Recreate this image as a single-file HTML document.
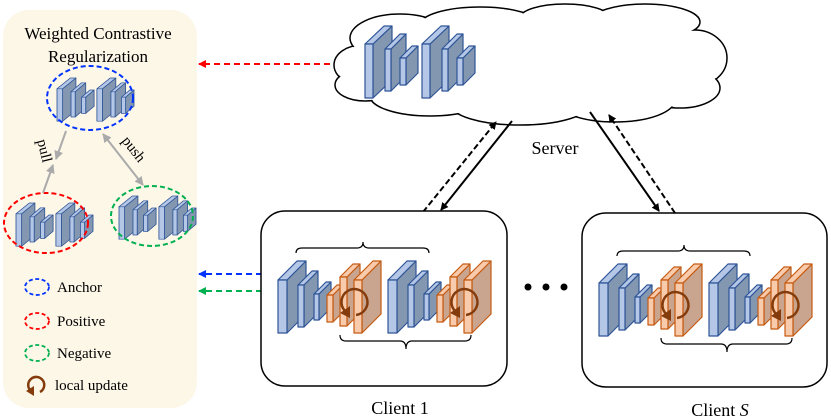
<!DOCTYPE html>
<html><head><meta charset="utf-8"><style>
html,body{margin:0;padding:0;background:#fff;}
svg{display:block;}
text{font-family:"Liberation Serif","Times New Roman",serif;fill:#000;}
</style></head><body>
<svg width="831" height="420" viewBox="0 0 831 420" xmlns="http://www.w3.org/2000/svg" font-family="Liberation Serif, serif">
<defs>
<marker id="ak" markerWidth="8" markerHeight="8" refX="7" refY="4" orient="auto" markerUnits="userSpaceOnUse"><path d="M0,0 L8,4 L0,8 z" fill="#000"/></marker>
<marker id="ar" markerWidth="8" markerHeight="8" refX="7" refY="4" orient="auto" markerUnits="userSpaceOnUse"><path d="M0,0 L8,4 L0,8 z" fill="#f00"/></marker>
<marker id="ab" markerWidth="8" markerHeight="8" refX="7" refY="4" orient="auto" markerUnits="userSpaceOnUse"><path d="M0,0 L8,4 L0,8 z" fill="#0033ff"/></marker>
<marker id="ag" markerWidth="8" markerHeight="8" refX="7" refY="4" orient="auto" markerUnits="userSpaceOnUse"><path d="M0,0 L8,4 L0,8 z" fill="#00b050"/></marker>
<marker id="agr" markerWidth="9" markerHeight="9" refX="8" refY="4.5" orient="auto" markerUnits="userSpaceOnUse"><path d="M0,0 L9,4.5 L0,9 z" fill="#aaa"/></marker>
<marker id="agr2" markerWidth="9" markerHeight="9" refX="1" refY="4.5" orient="auto" markerUnits="userSpaceOnUse"><path d="M9,0 L0,4.5 L9,9 z" fill="#aaa"/></marker>

<g id="bm" stroke="#2f5597" stroke-width="1.2" stroke-linejoin="round">
  <polygon points="373,44 392,26 392,80 373,98" fill="#8497b0"/>
  <polygon points="365,44 384,26 392,26 373,44" fill="#b4c7e7"/>
  <rect x="365" y="44" width="8" height="54" fill="#b4c7e7"/>
  <polygon points="391,49 406,34 406,76 391,91" fill="#8497b0"/>
  <polygon points="385,49 400,34 406,34 391,49" fill="#b4c7e7"/>
  <rect x="385" y="49" width="6" height="42" fill="#b4c7e7"/>
  <polygon points="406,58 418,46 418,73 406,85" fill="#8497b0"/>
  <polygon points="400,58 412,46 418,46 406,58" fill="#b4c7e7"/>
  <rect x="400" y="58" width="6" height="27" fill="#b4c7e7"/>
  <g transform="translate(57,0)">
  <polygon points="373,44 392,26 392,80 373,98" fill="#8497b0"/>
  <polygon points="365,44 384,26 392,26 373,44" fill="#b4c7e7"/>
  <rect x="365" y="44" width="8" height="54" fill="#b4c7e7"/>
  <polygon points="391,49 406,34 406,76 391,91" fill="#8497b0"/>
  <polygon points="385,49 400,34 406,34 391,49" fill="#b4c7e7"/>
  <rect x="385" y="49" width="6" height="42" fill="#b4c7e7"/>
  <polygon points="406,58 418,46 418,73 406,85" fill="#8497b0"/>
  <polygon points="400,58 412,46 418,46 406,58" fill="#b4c7e7"/>
  <rect x="400" y="58" width="6" height="27" fill="#b4c7e7"/>
  </g>
</g>

<g id="cu" stroke-width="1.2" stroke-linejoin="round">
  <g stroke="#2f5597">
    <polygon points="287,280 306,261 306,314 287,333" fill="#8497b0"/>
    <polygon points="278,280 297,261 306,261 287,280" fill="#b4c7e7"/>
    <rect x="278" y="280" width="9" height="53" fill="#b4c7e7"/>
    <polygon points="304,285 318,271 318,313 304,327" fill="#8497b0"/>
    <polygon points="298,285 312,271 318,271 304,285" fill="#b4c7e7"/>
    <rect x="298" y="285" width="6" height="42" fill="#b4c7e7"/>
    <polygon points="319,294 331,282 331,308 319,320" fill="#8497b0"/>
    <polygon points="314,294 326,282 331,282 319,294" fill="#b4c7e7"/>
    <rect x="314" y="294" width="5" height="26" fill="#b4c7e7"/>
  </g>
  <g stroke="#c55a11">
    <polygon points="333,295 343,285 343,312 333,322" fill="#c9a58f"/>
    <polygon points="327,295 337,285 343,285 333,295" fill="#f8cbad"/>
    <rect x="327" y="295" width="6" height="27" fill="#f8cbad"/>
    <polygon points="347,277 360,264 360,313 347,326" fill="#c9a58f"/>
    <polygon points="340,277 353,264 360,264 347,277" fill="#f8cbad"/>
    <rect x="340" y="277" width="7" height="49" fill="#f8cbad"/>
    <polygon points="362,280 381,261 381,314 362,333" fill="#c9a58f"/>
    <polygon points="354,280 373,261 381,261 362,280" fill="#f8cbad"/>
    <rect x="354" y="280" width="8" height="53" fill="#f8cbad"/>
  </g>
  <path d="M345,311 A13,13 0 1 1 356,315" fill="none" stroke="#843c0c" stroke-width="2.5"/>
  <polygon points="340,313 350,306 350,318" fill="#843c0c"/>
</g>
<g id="client">
  <use href="#cu"/>
  <use href="#cu" transform="translate(110,0)"/>
  <path d="M296,253 q0,-5 6,-5 h55 q6,0 6,-6 q0,6 6,6 h54 q6,0 6,5" fill="none" stroke="#000" stroke-width="1.2"/>
  <path d="M340,335 q0,6 6,6 h54 q6,0 6,8 q0,-8 6,-8 h53 q6,0 6,-6" fill="none" stroke="#000" stroke-width="1.2"/>
</g>
</defs>

<rect x="3" y="10" width="194" height="398" rx="26" fill="#fdf7e8"/>
<text x="98" y="39" font-size="17" text-anchor="middle">Weighted Contrastive</text>
<text x="98" y="62" font-size="17" text-anchor="middle">Regularization</text>

<use href="#bm" transform="translate(57,78) scale(0.7,0.6) translate(-365,-26)"/>
<ellipse cx="90" cy="98" rx="43" ry="32" fill="none" stroke="#0033ff" stroke-width="2" stroke-dasharray="5,3"/>
<use href="#bm" transform="translate(16,203) scale(0.7,0.6) translate(-365,-26)"/>
<ellipse cx="46" cy="223" rx="42" ry="30" fill="none" stroke="#f00" stroke-width="2" stroke-dasharray="5,3"/>
<use href="#bm" transform="translate(119,196) scale(0.7,0.6) translate(-365,-26)"/>
<ellipse cx="152" cy="216" rx="41" ry="30" fill="none" stroke="#00b050" stroke-width="2" stroke-dasharray="5,3"/>

<line x1="66" y1="131" x2="56" y2="159" stroke="#aaa" stroke-width="2" marker-end="url(#agr)"/>
<line x1="43" y1="193" x2="53" y2="165" stroke="#aaa" stroke-width="2" marker-end="url(#agr)"/>
<line x1="103" y1="134" x2="143" y2="185" stroke="#aaa" stroke-width="2" marker-end="url(#agr)" marker-start="url(#agr2)"/>
<text x="40" y="152" font-size="15" transform="rotate(76 40 152)" text-anchor="middle">pull</text>
<text x="130" y="152" font-size="15" transform="rotate(52 130 152)" text-anchor="middle">push</text>

<ellipse cx="37" cy="287" rx="12" ry="8" fill="none" stroke="#0033ff" stroke-width="1.8" stroke-dasharray="4,2.5"/>
<text x="57" y="292" font-size="15">Anchor</text>
<ellipse cx="37" cy="321" rx="12" ry="8" fill="none" stroke="#f00" stroke-width="1.8" stroke-dasharray="4,2.5"/>
<text x="57" y="326" font-size="15">Positive</text>
<ellipse cx="37" cy="353" rx="12" ry="8" fill="none" stroke="#00b050" stroke-width="1.8" stroke-dasharray="4,2.5"/>
<text x="57" y="358" font-size="15">Negative</text>
<path d="M31,391 A8,8 0 1 1 40,392" fill="none" stroke="#843c0c" stroke-width="2.5"/>
<polygon points="26,391 34,386 34,396" fill="#843c0c"/>
<text x="55" y="390" font-size="15">local update</text>

<line x1="330" y1="64" x2="199" y2="64" stroke="#f00" stroke-width="2" stroke-dasharray="6,4" marker-end="url(#ar)"/>
<line x1="262" y1="274" x2="199" y2="274" stroke="#0033ff" stroke-width="2" stroke-dasharray="6,4" marker-end="url(#ab)"/>
<line x1="262" y1="291" x2="199" y2="291" stroke="#00b050" stroke-width="2" stroke-dasharray="6,4" marker-end="url(#ag)"/>

<g stroke="#000" stroke-width="1.5" fill="#fff">
  <ellipse cx="362" cy="65" rx="28" ry="20"/>
  <ellipse cx="400" cy="38" rx="50" ry="24"/>
  <ellipse cx="480" cy="25" rx="60" ry="18"/>
  <ellipse cx="565" cy="18" rx="45" ry="14"/>
  <ellipse cx="645" cy="22" rx="55" ry="18"/>
  <ellipse cx="695" cy="58" rx="32" ry="28"/>
  <ellipse cx="680" cy="88" rx="40" ry="20"/>
  <ellipse cx="615" cy="100" rx="60" ry="22"/>
  <ellipse cx="520" cy="104" rx="70" ry="21"/>
  <ellipse cx="430" cy="96" rx="60" ry="20"/>
  <ellipse cx="365" cy="85" rx="30" ry="16"/>
</g>
<g fill="#fff">
  <ellipse cx="362" cy="65" rx="27" ry="19"/>
  <ellipse cx="400" cy="38" rx="49" ry="23"/>
  <ellipse cx="480" cy="25" rx="59" ry="17"/>
  <ellipse cx="565" cy="18" rx="44" ry="13"/>
  <ellipse cx="645" cy="22" rx="54" ry="17"/>
  <ellipse cx="695" cy="58" rx="31" ry="27"/>
  <ellipse cx="680" cy="88" rx="39" ry="19"/>
  <ellipse cx="615" cy="100" rx="59" ry="21"/>
  <ellipse cx="520" cy="104" rx="69" ry="20"/>
  <ellipse cx="430" cy="96" rx="59" ry="19"/>
  <ellipse cx="365" cy="85" rx="29" ry="15"/>
  <ellipse cx="530" cy="62" rx="160" ry="44"/>
  <ellipse cx="660" cy="52" rx="45" ry="28"/>
</g>
<use href="#bm"/>
<text x="555" y="154" font-size="18" text-anchor="middle">Server</text>

<line x1="423" y1="212" x2="496" y2="122" stroke="#000" stroke-width="2" stroke-dasharray="6,3" marker-end="url(#ak)"/>
<line x1="512" y1="121" x2="441" y2="210" stroke="#000" stroke-width="2" marker-end="url(#ak)"/>
<line x1="590" y1="112" x2="659" y2="211" stroke="#000" stroke-width="2" marker-end="url(#ak)"/>
<line x1="675" y1="213" x2="609" y2="115" stroke="#000" stroke-width="2" stroke-dasharray="6,3" marker-end="url(#ak)"/>

<rect x="261" y="211" width="246" height="175" rx="24" fill="#fff" stroke="#000" stroke-width="1.5"/>
<use href="#client"/>
<text x="400" y="414" font-size="18" text-anchor="middle">Client 1</text>

<rect x="582" y="213" width="245" height="174" rx="24" fill="#fff" stroke="#000" stroke-width="1.5"/>
<use href="#client" transform="translate(321,3)"/>
<text x="720" y="416" font-size="18" text-anchor="middle">Client <tspan font-style="italic">S</tspan></text>

<circle cx="528" cy="287" r="3.5" fill="#000"/>
<circle cx="546" cy="287" r="3.5" fill="#000"/>
<circle cx="564" cy="287" r="3.5" fill="#000"/>
</svg>
</body></html>
